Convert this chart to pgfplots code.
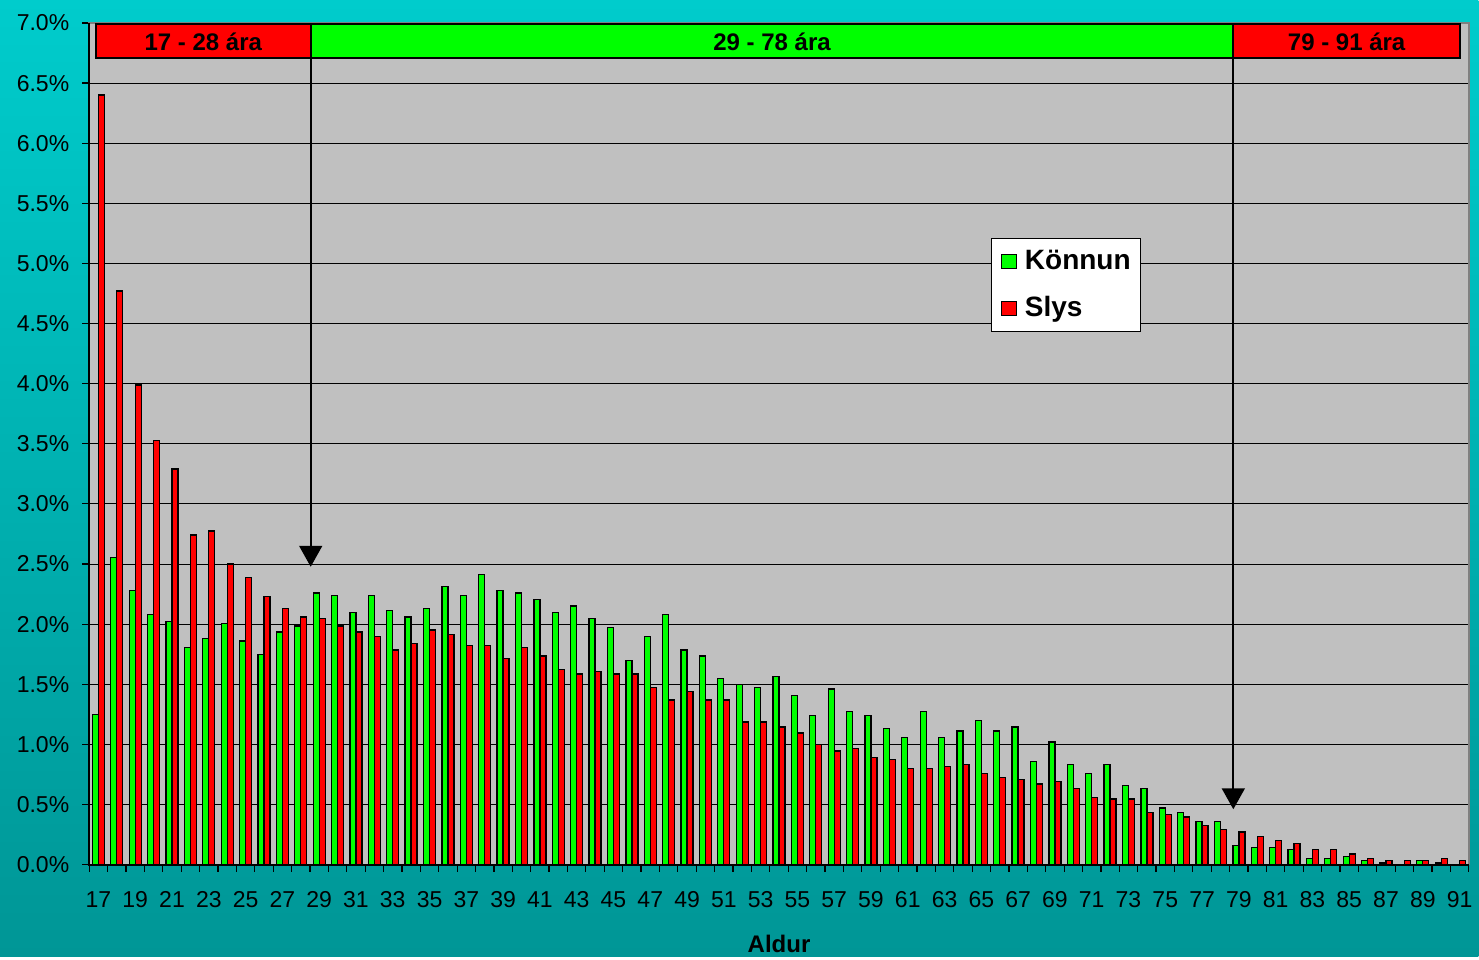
\documentclass[border=0pt]{standalone}
\usepackage{fontspec}
\setmainfont{Liberation Sans}
\usepackage{pgfplots}
\pgfplotsset{compat=1.18}
\usepackage{pgfplotstable}
\usetikzlibrary{arrows.meta}
\definecolor{bgtop}{RGB}{0,204,204}
\definecolor{bgbot}{RGB}{0,150,150}
\definecolor{plotgray}{RGB}{192,192,192}
\definecolor{kgreen}{RGB}{0,255,0}
\definecolor{sred}{RGB}{255,0,0}
\pgfplotsset{mylegend/.style={legend image code/.code={\path[draw=none,fill=none] (0pt,0pt) rectangle (11.5pt,0.1pt); \draw[##1,draw=black,line width=0.5pt] (2pt,-3.6pt) rectangle (9.2pt,3.6pt);}}}
\pgfplotstableread{
age konnun slys
17 1.25 6.40
18 2.555 4.77
19 2.28 3.99
20 2.08 3.53
21 2.02 3.29
22 1.805 2.74
23 1.88 2.775
24 2.005 2.50
25 1.86 2.39
26 1.75 2.23
27 1.935 2.13
28 1.985 2.06
29 2.26 2.045
30 2.24 1.985
31 2.095 1.935
32 2.24 1.895
33 2.115 1.785
34 2.06 1.84
35 2.13 1.95
36 2.315 1.915
37 2.24 1.82
38 2.41 1.82
39 2.28 1.715
40 2.26 1.805
41 2.205 1.735
42 2.095 1.62
43 2.15 1.585
44 2.045 1.605
45 1.97 1.585
46 1.695 1.585
47 1.895 1.475
48 2.08 1.37
49 1.785 1.44
50 1.735 1.37
51 1.55 1.37
52 1.495 1.185
53 1.475 1.185
54 1.565 1.145
55 1.405 1.095
56 1.24 1.00
57 1.46 0.945
58 1.275 0.965
59 1.24 0.89
60 1.13 0.873
61 1.055 0.80
62 1.275 0.80
63 1.055 0.815
64 1.11 0.835
65 1.20 0.76
66 1.11 0.725
67 1.145 0.705
68 0.855 0.67
69 1.02 0.69
70 0.835 0.635
71 0.76 0.56
72 0.835 0.545
73 0.655 0.545
74 0.635 0.435
75 0.47 0.415
76 0.435 0.395
77 0.36 0.325
78 0.36 0.29
79 0.16 0.27
80 0.143 0.233
81 0.143 0.198
82 0.123 0.178
83 0.05 0.125
84 0.05 0.125
85 0.068 0.087
86 0.033 0.05
87 0.014 0.033
88 0 0.033
89 0.033 0.033
90 0.014 0.05
91 0 0.033
}\datatable
\begin{document}
\begin{tikzpicture}
\shade[top color=bgtop, bottom color=bgbot] (0,0) rectangle (739.5pt,478.5pt);
\begin{axis}[
  at={(44.65pt,46pt)}, anchor=south west,
  scale only axis, width=690.1pt, height=421pt,
  xmin=16.5, xmax=91.5, ymin=0, ymax=7,
  axis background/.style={fill=plotgray},
  axis line style={draw=gray, line width=0.8pt},
  ybar=0pt, bar width=3.0pt,
  xtick={17,19,...,91},
  minor xtick={16.5,17.5,...,91.5},
  ytick={0,0.5,...,7},
  xtick pos=bottom, ytick pos=left,
  tick align=outside,
  major x tick style={draw=none},
  minor x tick style={black, line width=0.6pt},
  major y tick style={black, line width=0.6pt},
  major tick length=3.5pt, minor tick length=3.5pt,
  ymajorgrids, major grid style={black, line width=0.4pt},
  /pgf/number format/assume math mode=true,
  tick label style={font=\fontsize{11.5}{13}\selectfont},
  yticklabel={\pgfmathprintnumber[fixed,fixed zerofill,precision=1]{\tick}\%},
  yticklabel style={xshift=-3pt},
  xticklabel style={yshift=-6.5pt},
  xlabel={Aldur},
  xlabel style={font=\bfseries\fontsize{12}{14}\selectfont, at={(axis description cs:0.5,-0.0947)}, anchor=center},
  legend style={at={(0.654,0.7447)}, anchor=north west, draw=black, line width=0.5pt, fill=white,
    font=\bfseries\fontsize{14}{16}\selectfont, legend cell align=left,
    inner xsep=3pt, inner ysep=4pt, row sep=8pt},
  clip=false,
]
\addplot[fill=kgreen, draw=black, line width=0.65pt, mylegend]
  table[x=age, y=konnun] {\datatable};
\addplot[fill=sred, draw=black, line width=0.65pt, mylegend]
  table[x=age, y=slys] {\datatable};
\legend{Könnun, Slys}
% axis lines left and bottom
\draw[black, line width=1pt] (rel axis cs:0,1) -- (rel axis cs:0,0) -- (rel axis cs:1,0);
% banner
\draw[fill=sred, line width=1pt] (axis cs:16.85,6.706) rectangle (axis cs:28.54,6.989);
\draw[fill=kgreen, line width=1pt] (axis cs:28.54,6.706) rectangle (axis cs:78.7,6.989);
\draw[fill=sred, line width=1pt] (axis cs:78.7,6.706) rectangle (axis cs:91.01,6.989);
\node[font=\bfseries\fontsize{12}{14}\selectfont] at (axis cs:22.7,6.84) {17 - 28 ára};
\node[font=\bfseries\fontsize{12}{14}\selectfont] at (axis cs:53.62,6.84) {29 - 78 ára};
\node[font=\bfseries\fontsize{12}{14}\selectfont] at (axis cs:84.86,6.84) {79 - 91 ára};
% arrows
\draw[line width=0.9pt, -{Triangle[width=11.5pt,length=10.5pt]}] (axis cs:28.54,6.706) -- (axis cs:28.54,2.477);
\draw[line width=0.9pt, -{Triangle[width=11.5pt,length=10.5pt]}] (axis cs:78.7,6.706) -- (axis cs:78.7,0.46);
\end{axis}
\end{tikzpicture}
\end{document}
